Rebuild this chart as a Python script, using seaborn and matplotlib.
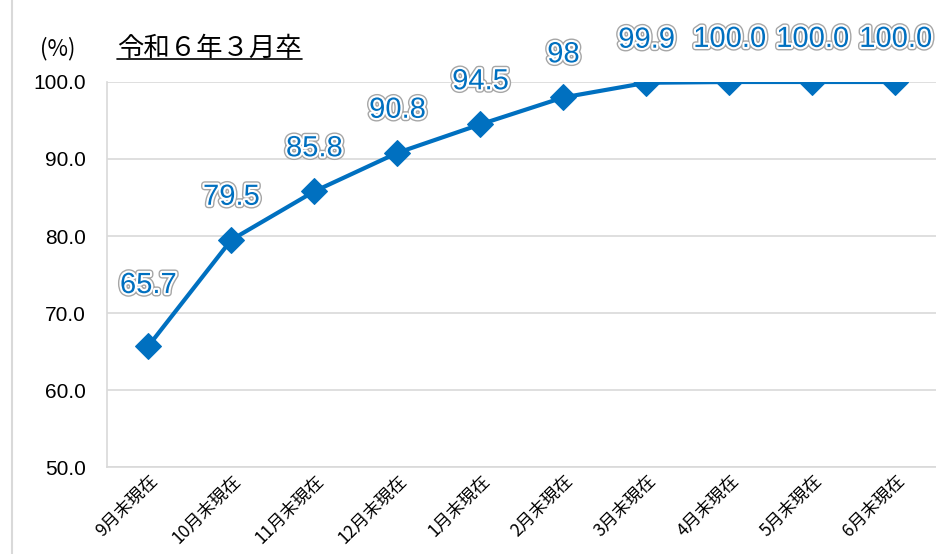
import matplotlib.pyplot as plt
import matplotlib.patheffects as pe
from matplotlib.lines import Line2D
import seaborn as sns
import pandas as pd

months = ['9月末現在', '10月末現在', '11月末現在', '12月末現在', '1月末現在',
          '2月末現在', '3月末現在', '4月末現在', '5月末現在', '6月末現在']
rates = [65.7, 79.5, 85.8, 90.8, 94.5, 98.0, 99.9, 100.0, 100.0, 100.0]
rate_labels = ['65.7', '79.5', '85.8', '90.8', '94.5', '98', '99.9', '100.0', '100.0', '100.0']
yticks = [50, 60, 70, 80, 90, 100]

sns.set_style('white')
plt.rcParams['font.family'] = ['Noto Sans CJK JP', 'DejaVu Sans']

df = pd.DataFrame({'month': months, 'rate': rates})
blue = '#0070C0'

fig = plt.figure(figsize=(9.37, 5.54), dpi=100)
ax = fig.add_axes([0.114, 0.157, 0.886, 0.695])

sns.lineplot(data=df, x='month', y='rate', ax=ax, sort=False, color=blue,
             linewidth=3, marker='D', markersize=13, markeredgecolor=blue)

ax.set_xlim(-0.5, len(months) - 0.5)
ax.set_ylim(50, 100)
ax.set_yticks(yticks)
ax.set_yticklabels([f'{v:.1f}' for v in yticks], fontsize=15,
                   family=['Liberation Sans', 'DejaVu Sans'], color='black')
ax.yaxis.grid(True, color='#d9d9d9', linewidth=1.2)
ax.set_axisbelow(True)
ax.set_xlabel('')
ax.set_ylabel('')
for s in ['top', 'right']:
    ax.spines[s].set_visible(False)
for s in ['left', 'bottom']:
    ax.spines[s].set_color('#d9d9d9')
    ax.spines[s].set_linewidth(1.2)
ax.tick_params(axis='y', length=0, pad=15)
ax.tick_params(axis='x', length=0, pad=3)
plt.setp(ax.get_xticklabels(), rotation=45, ha='right', rotation_mode='anchor',
         fontsize=12.5, color='black')

outline = [pe.Stroke(linewidth=5, foreground='#a6a6a6'),
           pe.Stroke(linewidth=3, foreground='white'), pe.Normal()]
for i, (v, lab) in enumerate(zip(rates, rate_labels)):
    off = 44 if i == 0 else 31
    ax.annotate(lab, (i, v), xytext=(0, off), textcoords='offset points',
                ha='center', va='center', color=blue, fontsize=21,
                family=['Liberation Sans', 'DejaVu Sans'],
                path_effects=outline, annotation_clip=False)

fig.text(0.043, 0.913, '(%)', fontsize=16, va='center', color='black')
title = fig.text(0.125, 0.913, '令和６年３月卒', fontsize=19, va='center', color='black')
fig.canvas.draw()
bb = title.get_window_extent().transformed(fig.transFigure.inverted())
fig.add_artist(Line2D([bb.x0, bb.x1], [bb.y0 + 0.004, bb.y0 + 0.004],
                      color='black', linewidth=1.2))
fig.add_artist(Line2D([0.013, 0.013], [0, 1], color='#d9d9d9', linewidth=1.5))

fig.savefig('out.png', dpi=100)
